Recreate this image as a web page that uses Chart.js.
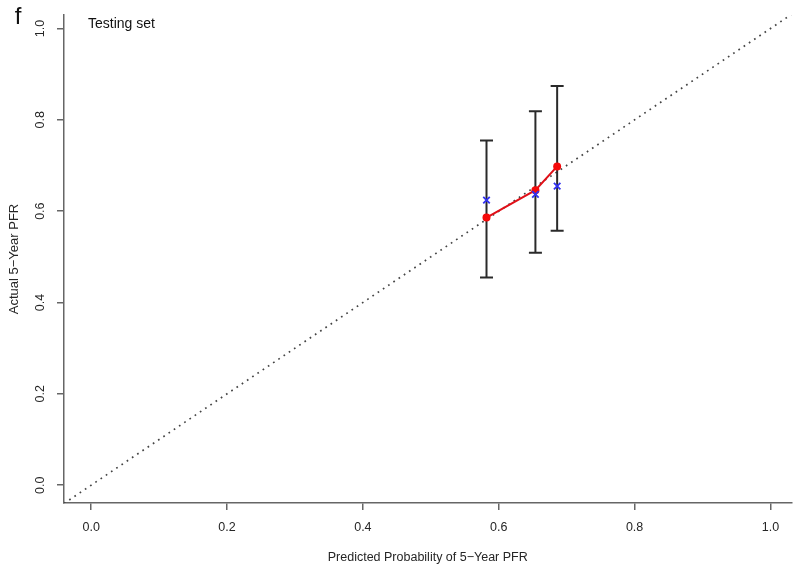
<!DOCTYPE html>
<html><head><meta charset="utf-8">
<script src="https://cdn.jsdelivr.net/npm/chart.js@4/dist/chart.umd.min.js"></script>
<style>html,body{margin:0;padding:0;background:#fff}#wrap{width:800px;height:569px}</style>
</head><body><div id="wrap"><canvas id="c" width="800" height="569"></canvas></div>
<script>
// ---- data ----
const predicted     = [0.582, 0.654, 0.686];   // x position of each group
const observed      = [0.586, 0.646, 0.698];   // red points (apparent)
const biasCorrected = [0.624, 0.637, 0.655];   // blue x marks
const ciLower       = [0.455, 0.509, 0.557];
const ciUpper       = [0.755, 0.819, 0.874];
const diagonalEnds  = [-0.04, 1.031];          // ideal line y = x
const xTicks = [0, 0.2, 0.4, 0.6, 0.8, 1.0];
const yTicks = [0, 0.2, 0.4, 0.6, 0.8, 1.0];
const panelLabel  = 'f';
const subsetLabel = 'Testing set';
const xTitle = 'Predicted Probability of 5\u2212Year PFR';
const yTitle = 'Actual 5\u2212Year PFR';

const FONT = '"Liberation Sans", Arial, Helvetica, sans-serif';
const AXIS = '#666666';
const TEXT = '#262626';

const errorBarPoints = [];
predicted.forEach((x, i) => {
  errorBarPoints.push({x: x, y: ciUpper[i]});
  errorBarPoints.push({x: x, y: ciLower[i]});
  errorBarPoints.push({x: x, y: null});
});

const textPlugin = {
  id: 'panelText',
  afterDraw(chart) {
    const ctx = chart.ctx;
    ctx.save();
    ctx.fillStyle = '#111';
    ctx.textBaseline = 'middle';
    ctx.textAlign = 'center';
    ctx.font = '24px ' + FONT;
    ctx.fillText(panelLabel, 18, 17);
    ctx.textAlign = 'left';
    ctx.font = '14px ' + FONT;
    ctx.fillText(subsetLabel, 88, 24);
    ctx.restore();
  }
};

new Chart(document.getElementById('c'), {
  type: 'scatter',
  data: {
    datasets: [
      {
        label: 'bias-corrected',
        data: predicted.map((x, i) => ({x: x, y: biasCorrected[i]})),
        showLine: false,
        pointStyle: 'crossRot',
        pointRadius: 4.6,
        pointBorderWidth: 1.8,
        pointBorderColor: '#3030f0',
        borderColor: '#3030f0'
      },
      {
        label: 'apparent',
        data: predicted.map((x, i) => ({x: x, y: observed[i]})),
        showLine: true,
        borderColor: '#e01018',
        borderWidth: 2,
        pointRadius: 4,
        pointBorderWidth: 0,
        pointBackgroundColor: '#f50a0a',
        pointBorderColor: '#f50a0a'
      },
      {
        label: 'ci',
        data: errorBarPoints,
        showLine: true,
        spanGaps: false,
        borderColor: '#2a2a2a',
        borderWidth: 2,
        pointStyle: 'line',
        pointRadius: 6.5,
        pointBorderWidth: 2,
        pointBorderColor: '#2a2a2a'
      },
      {
        label: 'ideal',
        data: diagonalEnds.map(v => ({x: v, y: v})),
        showLine: true,
        borderColor: '#444444',
        borderWidth: 1.7,
        borderDash: [1.7, 4.6],
        borderCapStyle: 'butt',
        pointRadius: 0
      }
    ]
  },
  options: {
    responsive: false,
    devicePixelRatio: 1,
    animation: false,
    layout: {padding: {top: 8, right: 7, left: 0, bottom: 0}},
    plugins: {legend: {display: false}, tooltip: {enabled: false}},
    scales: {
      x: {
        type: 'linear',
        min: diagonalEnds[0],
        max: diagonalEnds[1],
        afterBuildTicks: s => { s.ticks = xTicks.map(v => ({value: v})); },
        afterFit: s => { s.height = 66; },
        grid: {display: true, drawOnChartArea: false, drawTicks: true, tickLength: 7, color: AXIS, lineWidth: 1.5},
        border: {display: true, color: AXIS, width: 1.5},
        ticks: {autoSkip: false, maxRotation: 0, padding: 10, color: TEXT,
                font: {family: FONT, size: 12.5},
                callback: v => Number(v).toFixed(1)},
        title: {display: true, text: xTitle, color: TEXT, font: {family: FONT, size: 12.5},
                padding: {top: 0, bottom: 4}}
      },
      y: {
        type: 'linear',
        min: -0.039,
        max: 1.0296,
        afterBuildTicks: s => { s.ticks = yTicks.map(v => ({value: v})); },
        afterFit: s => { s.width = 64; },
        grid: {display: true, drawOnChartArea: false, drawTicks: true, tickLength: 7, color: AXIS, lineWidth: 1.5},
        border: {display: true, color: AXIS, width: 1.5},
        ticks: {autoSkip: false, minRotation: 90, maxRotation: 90, crossAlign: 'center',
                padding: 7.5, color: TEXT, font: {family: FONT, size: 12.5},
                callback: v => Number(v).toFixed(1)},
        title: {display: true, text: yTitle, color: TEXT, font: {family: FONT, size: 13},
                padding: {top: 7, bottom: 0}}
      }
    }
  },
  plugins: [textPlugin]
});
</script>
</body></html>
